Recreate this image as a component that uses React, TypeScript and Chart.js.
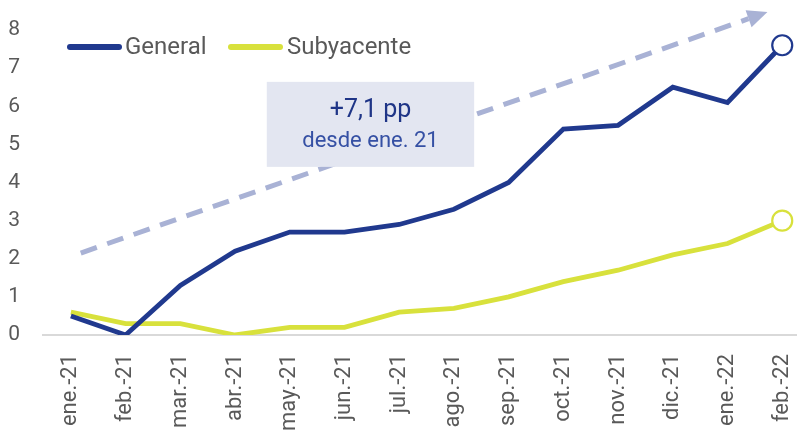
import React, { useEffect, useRef } from "react";
import { Chart, registerables } from "chart.js";

Chart.register(...registerables);

const categories = ["ene.-21", "feb.-21", "mar.-21", "abr.-21", "may.-21", "jun.-21", "jul.-21", "ago.-21", "sep.-21", "oct.-21", "nov.-21", "dic.-21", "ene.-22", "feb.-22"];
const general = [0.5, 0.0, 1.3, 2.2, 2.7, 2.7, 2.9, 3.3, 4.0, 5.4, 5.5, 6.5, 6.1, 7.6];
const subyacente = [0.6, 0.3, 0.3, 0.0, 0.2, 0.2, 0.6, 0.7, 1.0, 1.4, 1.7, 2.1, 2.4, 3.0];
const yTicks = [0, 1, 2, 3, 4, 5, 6, 7, 8];
const seriesNames = ["General", "Subyacente"];
const annotationLines = ["+7,1 pp", "desde ene. 21"];
// annotation box & arrow in data coordinates
const boxX = [3.58, 7.37];
const boxY = [4.41, 6.64];
const arrowFrom = [0.18, 2.15];
const arrowTo = [12.73, 8.47];

const NAVY = "#20398e";
const LIME = "#d8e13c";
const GRAY = "#595959";
const FONT = "Roboto, 'Noto Sans', sans-serif";

const overlayPlugin = {
  id: "overlay",
  afterDatasetsDraw(chart: any) {
    const { ctx, scales } = chart;
    const xs = scales.x, ys = scales.y;
    ctx.save();

    // arrow (behind box)
    const ax = xs.getPixelForValue(arrowFrom[0]);
    const ay = ys.getPixelForValue(arrowFrom[1]);
    const bx = xs.getPixelForValue(arrowTo[0]);
    const by = ys.getPixelForValue(arrowTo[1]);
    const ang = Math.atan2(by - ay, bx - ax);
    const headLen = 20;
    const headW = 9;
    const hx = bx - headLen * Math.cos(ang);
    const hy = by - headLen * Math.sin(ang);
    ctx.strokeStyle = "#a9b2d5";
    ctx.fillStyle = "#a9b2d5";
    ctx.lineWidth = 5;
    ctx.setLineDash([17, 11]);
    ctx.beginPath();
    ctx.moveTo(ax, ay);
    ctx.lineTo(hx, hy);
    ctx.stroke();
    ctx.setLineDash([]);
    ctx.beginPath();
    ctx.moveTo(bx, by);
    ctx.lineTo(hx + headW * Math.sin(ang), hy - headW * Math.cos(ang));
    ctx.lineTo(hx - headW * Math.sin(ang), hy + headW * Math.cos(ang));
    ctx.closePath();
    ctx.fill();

    // annotation box
    const x0 = xs.getPixelForValue(boxX[0]);
    const x1 = xs.getPixelForValue(boxX[1]);
    const y0 = ys.getPixelForValue(boxY[1]);
    const y1 = ys.getPixelForValue(boxY[0]);
    ctx.fillStyle = "#e3e6f1";
    ctx.fillRect(x0, y0, x1 - x0, y1 - y0);
    const cx = (x0 + x1) / 2;
    ctx.textAlign = "center";
    ctx.textBaseline = "alphabetic";
    ctx.fillStyle = "#1f3587";
    ctx.font = `25px ${FONT}`;
    ctx.fillText(annotationLines[0], cx, y0 + 35);
    ctx.fillStyle = "#3550a4";
    ctx.font = `22px ${FONT}`;
    ctx.fillText(annotationLines[1], cx, y0 + 65);

    // legend
    const colors = [NAVY, LIME];
    const items = [
      { lx: 67, tx: 125 },
      { lx: 228, tx: 287 },
    ];
    const ly = 47;
    ctx.font = `24px ${FONT}`;
    ctx.textAlign = "left";
    ctx.textBaseline = "middle";
    items.forEach((it, i) => {
      ctx.strokeStyle = colors[i];
      ctx.lineWidth = 6;
      ctx.lineCap = "round";
      ctx.beginPath();
      ctx.moveTo(it.lx + 3, ly);
      ctx.lineTo(it.lx + 52, ly);
      ctx.stroke();
      ctx.fillStyle = GRAY;
      ctx.fillText(seriesNames[i], it.tx, ly + 1);
    });
    ctx.restore();
  },
};

export default function App() {
  const ref = useRef<HTMLCanvasElement>(null);
  useEffect(() => {
    if (!ref.current) return;
    const last = categories.length - 1;
    const mk = (arr: number[]) => arr.map((v, i) => ({ x: i, y: v }));
    const chart = new Chart(ref.current, {
      type: "line",
      data: {
        datasets: [
          {
            label: seriesNames[0],
            data: mk(general),
            borderColor: NAVY,
            backgroundColor: NAVY,
            borderWidth: 4.8,
            pointRadius: (c: any) => (c.dataIndex === last ? 10 : 0),
            pointBackgroundColor: "#ffffff",
            pointBorderColor: NAVY,
            pointBorderWidth: 2.2,
            tension: 0,
          },
          {
            label: seriesNames[1],
            data: mk(subyacente),
            borderColor: LIME,
            backgroundColor: LIME,
            borderWidth: 4.8,
            pointRadius: (c: any) => (c.dataIndex === last ? 10 : 0),
            pointBackgroundColor: "#ffffff",
            pointBorderColor: LIME,
            pointBorderWidth: 2.2,
            tension: 0,
            order: 1,
          },
        ],
      },
      options: {
        animation: false,
        responsive: false,
        devicePixelRatio: 1,
        events: [],
        layout: { autoPadding: false, padding: { top: 30, left: 0, right: 0, bottom: 0 } },
        plugins: { legend: { display: false }, tooltip: { enabled: false } },
        scales: {
          x: {
            type: "linear",
            min: -0.51,
            max: 13.27,
            afterBuildTicks: (axis: any) => {
              axis.ticks = categories.map((_, i) => ({ value: i }));
            },
            afterFit: (axis: any) => {
              axis.height = 101;
              axis.paddingLeft = 0;
              axis.paddingRight = 0;
            },
            grid: { display: false, drawTicks: false },
            border: { display: true, color: "#d9d9d9", width: 2 },
            ticks: {
              autoSkip: false,
              minRotation: 90,
              maxRotation: 90,
              padding: 19,
              color: GRAY,
              font: { family: FONT, size: 22 },
              callback: (v: any) => categories[v] ?? "",
            },
          },
          y: {
            min: 0,
            max: 8,
            afterBuildTicks: (axis: any) => {
              axis.ticks = yTicks.map((v) => ({ value: v }));
            },
            afterFit: (axis: any) => {
              axis.width = 43;
              axis.paddingTop = 0;
              axis.paddingBottom = 0;
            },
            grid: { display: false, drawTicks: false },
            border: { display: false },
            ticks: {
              padding: 23,
              color: GRAY,
              font: { family: FONT, size: 21 },
            },
          },
        },
      },
      plugins: [overlayPlugin],
    } as any);
    return () => chart.destroy();
  }, []);
  return (
    <div style={{ position: "fixed", left: 0, top: 0, width: 797, height: 436, background: "#fff" }}>
      <canvas ref={ref} width={797} height={436} style={{ width: 797, height: 436, display: "block" }} />
    </div>
  );
}
